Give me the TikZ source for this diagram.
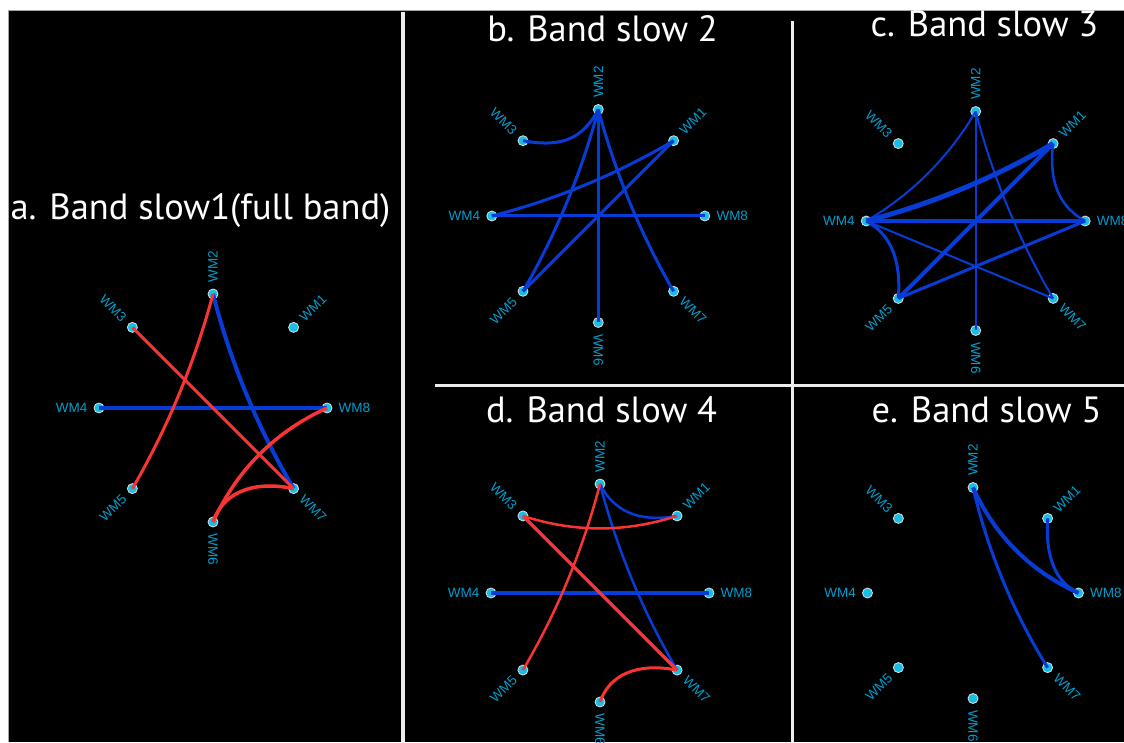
\documentclass[tikz,border=0pt]{standalone}
\usepackage{fontspec}
\usetikzlibrary{calc}
\newfontfamily\titlefont{PT Sans}
\newfontfamily\labfont{Liberation Sans}
\definecolor{wmblue}{RGB}{8,60,214}
\definecolor{wmred}{RGB}{250,52,52}
\definecolor{wmnodefill}{RGB}{24,190,228}
\definecolor{wmlabel}{RGB}{0,158,206}
\definecolor{divider}{RGB}{236,236,236}
\newcommand\wmpanel[3]{%
  \foreach \i/\ang in {1/45,2/90,3/135,4/180,5/225,6/270,7/315,8/0}{%
    \node[wmnode] (#1\i) at ($(#2)+(\ang:#3)$) {};}
  \foreach \i/\ang in {1/45,2/90,6/270,7/315,8/0}{%
    \node[wmlab,anchor=west,rotate=\ang] (#1l\i) at ($(#2)+(\ang:#3+11.5)$) {WM\i};}
  \foreach \i/\ang/\rot in {3/135/-45,4/180/0,5/225/45}{%
    \node[wmlab,anchor=east,rotate=\rot] (#1l\i) at ($(#2)+(\ang:#3+11.5)$) {WM\i};}
}
\newcommand\qedge[4][]{%
  \path ($(#2)!0.5!(#3)!#4!90:(#3)$) coordinate (qc);
  \draw[#1] (#2) .. controls ($(#2)!2/3!(qc)$) and ($(#3)!2/3!(qc)$) .. (#3);
}
\begin{document}
\begin{tikzpicture}[x=1pt,y=1pt,
  wmnode/.style={circle,fill=wmnodefill,draw=white!75!gray,line width=0.8pt,minimum size=10pt,inner sep=0pt},
  wmlab/.style={text=wmlabel,font=\labfont\fontsize{13.5}{13.5}\selectfont,inner sep=0pt},
  paneltitle/.style={text=white,font=\titlefont\fontsize{36.5}{36.5}\selectfont,inner sep=0pt,anchor=base},
  bl/.style={draw=wmblue,line width=#1}, bl/.default=3pt,
  rd/.style={draw=wmred,line width=#1}, rd/.default=3pt,
]
\useasboundingbox (0,0) rectangle (1124,742);
\fill[white] (0,0) rectangle (1124,742);
\fill[black] (8,0) rectangle (1124,732);
\draw[gray!70,line width=1pt] (8.5,0) -- (8.5,731.5) -- (1124,731.5);
% dividers
\fill[divider] (401,0) rectangle (405,730);
\fill[divider] (790.5,0) rectangle (793.5,721);
\fill[divider] (435,354.5) rectangle (1124,357.5);
% titles
\node[paneltitle] (ta) at (200.5,522) {a. Band slow1(full band)};
\node[paneltitle] (tb) at (602.5,700) {b. Band slow 2};
\node[paneltitle] (tc) at (984.5,705) {c. Band slow 3};
\node[paneltitle] (td) at (601.5,319) {d. Band slow 4};
\node[paneltitle] (te) at (986.5,319) {e. Band slow 5};
% panel centres
\coordinate (ca) at (213,334);
\coordinate (cb) at (598.3,526);
\coordinate (cc) at (975.7,521);
\coordinate (cd) at (600,149);
\coordinate (ce) at (973,149);
\wmpanel{a}{ca}{114}
\wmpanel{b}{cb}{106.5}
\wmpanel{c}{cc}{109.5}
\wmpanel{d}{cd}{109}
\wmpanel{e}{ce}{105.5}
% panel a
\draw[bl=4pt] (a4.center) -- (a8.center);
\qedge[bl=4pt]{a2.center}{a7.center}{-15pt}
\draw[rd] (a3.center) -- (a7.center);
\qedge[rd]{a2.center}{a5.center}{14pt}
\qedge[rd=3.5pt]{a8.center}{a6.center}{-30pt}
\draw[rd=3.5pt] (a6.center) .. controls +(9,27) and +(-44,9) .. (a7.center);
% panel b
\qedge[bl]{b2.center}{b5.center}{13pt}
\qedge[bl]{b2.center}{b7.center}{-13pt}
\draw[bl] (b2.center) -- (b6.center);
\draw[bl] (b4.center) -- (b8.center);
\draw[bl] (b1.center) -- (b5.center);
\qedge[bl]{b4.center}{b1.center}{-14pt}
\draw[bl] (b3.center) .. controls +(38,-7) and +(-16,-30) .. (b2.center);
% panel c
\qedge[bl=2pt]{c4.center}{c2.center}{-20pt}
\qedge[bl=5pt]{c4.center}{c1.center}{-14pt}
\draw[bl=3.5pt] (c4.center) -- (c8.center);
\draw[bl=2pt] (c4.center) -- (c7.center);
\draw[bl=3pt] (c4.center) .. controls +(24.5,-13.3) and +(3.1,38.3) .. (c5.center);
\draw[bl=4pt] (c5.center) -- (c1.center);
\draw[bl=3pt] (c5.center) -- (c8.center);
\draw[bl=2pt] (c2.center) -- (c6.center);
\qedge[bl=2pt]{c2.center}{c7.center}{-14pt}
\draw[bl=2.5pt] (c1.center) .. controls +(-4.7,-37.6) and +(-26.1,14) .. (c8.center);
% panel d
\draw[bl=4pt] (d4.center) -- (d8.center);
\draw[bl=2.5pt] (d2.center) .. controls +(14,-28) and +(-37.3,-6.7) .. (d1.center);
\qedge[bl=2.5pt]{d2.center}{d7.center}{-14pt}
\qedge[rd=2.5pt]{d2.center}{d5.center}{14pt}
\qedge[rd=2.5pt]{d3.center}{d1.center}{-25pt}
\draw[rd=3.5pt] (d3.center) -- (d7.center);
\draw[rd=3pt] (d6.center) .. controls +(9,26) and +(-42,8) .. (d7.center);
% panel e
\qedge[bl=4pt]{e2.center}{e8.center}{-28pt}
\draw[bl=3pt] (e1.center) .. controls +(-2.4,-38.9) and +(-23,10.9) .. (e8.center);
\qedge[bl=3pt]{e2.center}{e7.center}{-16pt}
\end{tikzpicture}
\end{document}
